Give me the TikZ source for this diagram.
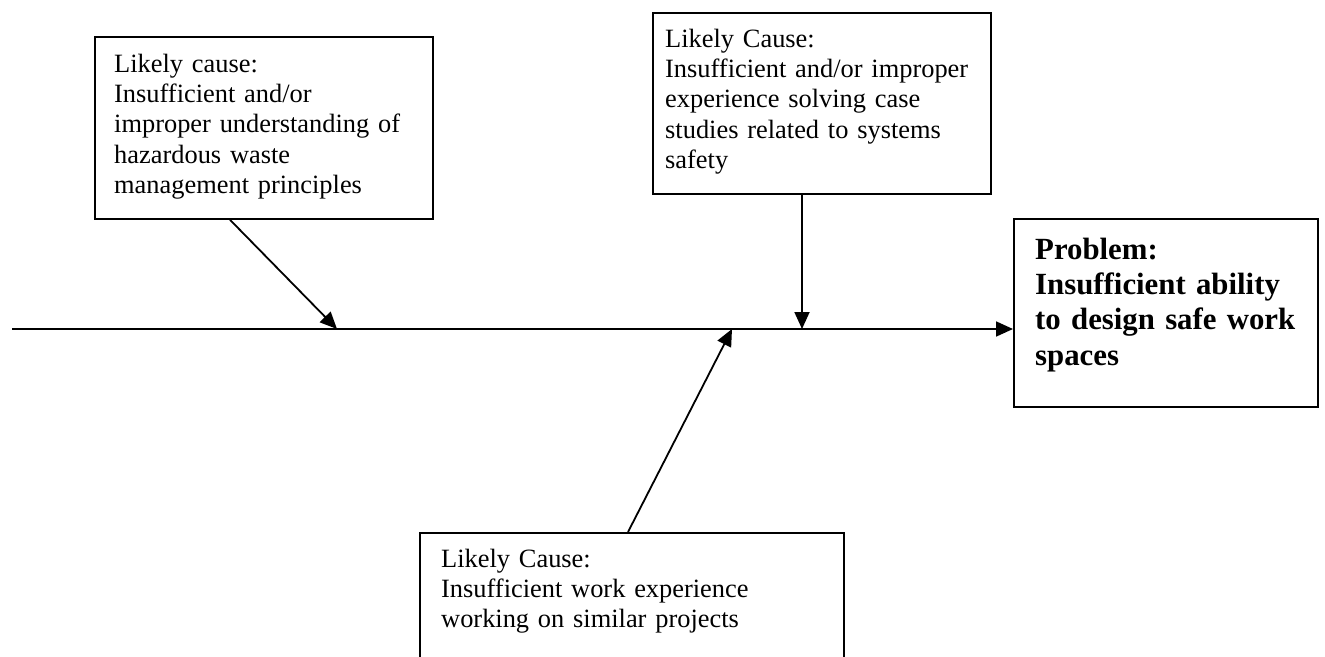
\documentclass[tikz,border=0pt]{standalone}
\usepackage{fontspec}
\setmainfont{Liberation Serif}
\usetikzlibrary{arrows.meta}
\usetikzlibrary{positioning}
\tikzstyle{causebox} = [draw, rectangle, line width=1.8pt, inner sep=0pt, anchor=north west]
\tikzstyle{causetext} = [anchor=base west, inner sep=0pt, align=left, font=\fontsize{26.4}{30.4}\selectfont]
\tikzstyle{problemtext} = [anchor=base west, inner sep=0pt, align=left, font=\fontsize{30.8}{35.4}\selectfont\bfseries]
\tikzstyle{bone} = [line width=1.8pt, -{Triangle[length=17pt,width=15pt]}]

\begin{document}
\begin{tikzpicture}[x=1pt, y=-1pt]
\useasboundingbox (0,0) rectangle (1325,656);

% boxes
\node[causebox, minimum width=338pt, minimum height=182pt] (b1) at (94,36) {};
\node[causebox, minimum width=338pt, minimum height=181pt] (b2) at (652,12) {};
\node[causebox, minimum width=304pt, minimum height=188pt] (b3) at (1013,218) {};
\node[causebox, minimum width=424pt, minimum height=150pt] (b4) at (419,532) {};

% texts
\node[causetext, text width=320pt] (t1) at (114,72)
  {Likely cause:\\Insufficient and/or\\improper understanding of\\hazardous waste\\management principles};
\node[causetext, text width=320pt] (t2) at (665,47)
  {Likely Cause:\\Insufficient and/or improper\\experience solving case\\studies related to systems\\safety};
\node[problemtext, text width=280pt] (t3) at (1035,259)
  {Problem:\\Insufficient ability\\to design safe work\\spaces};
\node[causetext, text width=400pt] (t4) at (441,567)
  {Likely Cause:\\Insufficient work experience\\working on similar projects};

% spine and bones
\coordinate (tail) at (12,329);
\coordinate (h1) at (337,329);
\coordinate (h2) at (802,329);
\coordinate (h3) at (732,329);
\draw[bone] (tail) -- (tail -| b3.west);
\draw[bone] ([xshift=136pt]b1.south west) -- (h1);
\draw[bone] (h2 |- b2.south) -- (h2);
\draw[bone] ([xshift=209pt]b4.north west) -- (h3);
\end{tikzpicture}
\end{document}
